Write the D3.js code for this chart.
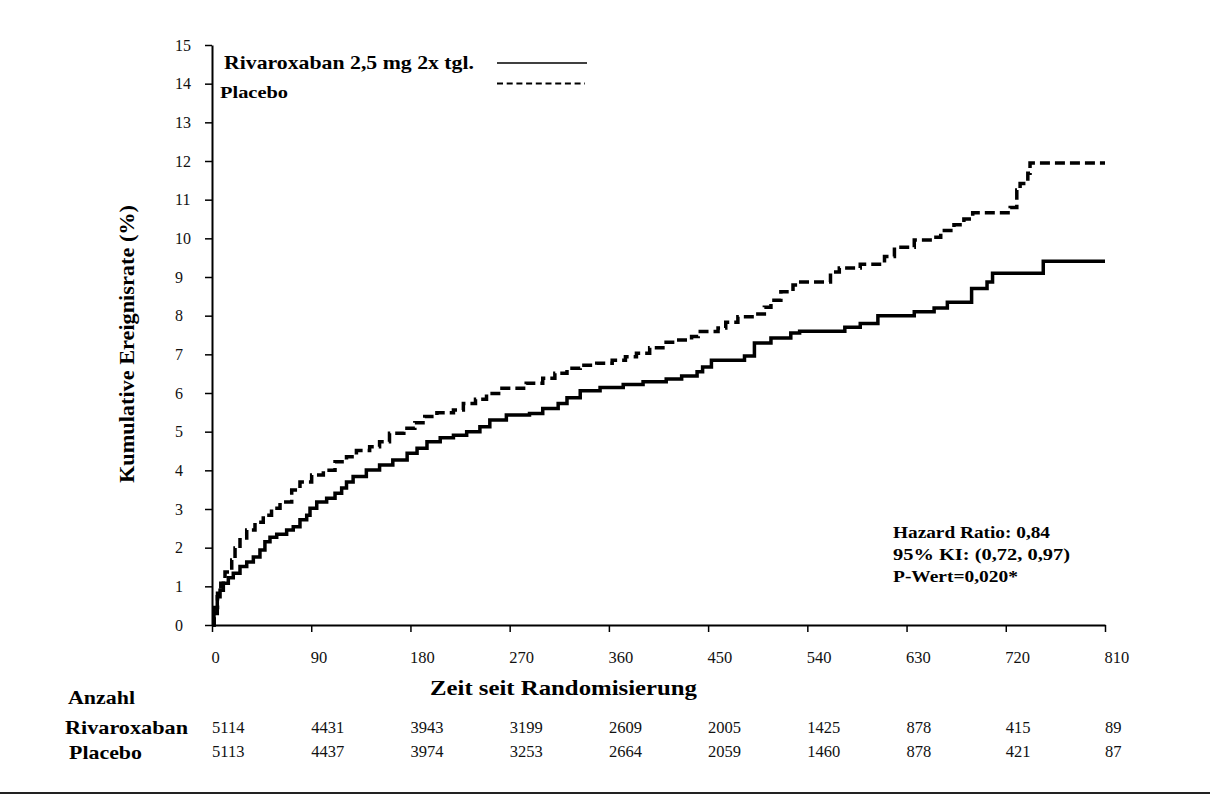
<!DOCTYPE html>
<html>
<head>
<meta charset="utf-8">
<script src="https://cdn.jsdelivr.net/npm/d3@7"></script>
<style>
  body { margin: 0; background: #fff; }
  svg { display: block; font-family: "Liberation Serif", "DejaVu Serif", serif; }
</style>
</head>
<body>
<svg width="1210" height="795"></svg>
<script>
const svg = d3.select('svg');

// Kaplan-Meier readings (days since randomisation, cumulative event rate in %)
const rivaDays = [0, 1.8, 4.8, 7.3, 10.3, 14.8, 19.3, 25.4, 31.5, 37.5, 43.5, 48, 52.6, 58.7, 67.7, 73.7, 79.8, 85.9, 88.9, 95, 104, 111.6, 117.6, 122, 128, 140, 152, 164, 177, 186, 195, 207, 219, 231, 243, 252, 267, 288, 300, 314, 322, 334, 352, 373, 391, 412, 426, 440, 445, 453, 483, 492, 507, 525, 533, 574, 588, 604, 637, 655, 667, 689, 703, 708, 754, 810];
const rivaRate = [0, 0.3, 0.73, 0.9, 1.08, 1.22, 1.34, 1.51, 1.63, 1.76, 1.94, 2.15, 2.27, 2.35, 2.46, 2.54, 2.72, 2.84, 3.02, 3.18, 3.28, 3.41, 3.54, 3.7, 3.84, 4.01, 4.14, 4.27, 4.44, 4.57, 4.74, 4.84, 4.91, 5.0, 5.13, 5.3, 5.43, 5.47, 5.6, 5.73, 5.88, 6.06, 6.14, 6.22, 6.29, 6.36, 6.44, 6.55, 6.67, 6.85, 6.96, 7.29, 7.42, 7.55, 7.6, 7.7, 7.8, 8.0, 8.1, 8.2, 8.35, 8.7, 8.87, 9.1, 9.41, 9.41];

const placDays = [0, 2, 5, 8, 11.8, 17.9, 20.9, 25.4, 31.5, 39, 46.5, 54, 61.7, 72.3, 79.8, 90.4, 101, 111.6, 122, 131, 143, 152, 161, 174, 184, 193, 204, 219, 228, 239, 249, 263, 285, 300, 311, 322, 334, 349, 363, 375, 385, 397, 409, 421, 435, 441, 459, 466, 477, 492, 501, 507, 516, 527, 534, 561, 569, 588, 610, 619, 637, 655, 661, 673, 682, 690, 724, 730, 733, 740, 742, 810];
const placRate = [0, 0.45, 0.82, 1.08, 1.37, 1.68, 1.99, 2.25, 2.46, 2.66, 2.84, 3.02, 3.18, 3.49, 3.7, 3.88, 4.0, 4.22, 4.35, 4.51, 4.61, 4.74, 4.96, 5.09, 5.23, 5.39, 5.49, 5.56, 5.73, 5.84, 5.99, 6.12, 6.25, 6.38, 6.51, 6.64, 6.72, 6.77, 6.85, 6.94, 7.03, 7.17, 7.31, 7.37, 7.46, 7.59, 7.68, 7.83, 7.97, 8.04, 8.22, 8.4, 8.62, 8.79, 8.87, 9.13, 9.23, 9.33, 9.53, 9.77, 9.96, 10.03, 10.2, 10.35, 10.5, 10.66, 10.8, 11.25, 11.42, 11.68, 11.95, 11.95];

const xTicks = [0, 90, 180, 270, 360, 450, 540, 630, 720, 810];
const yTicks = d3.range(0, 16);

const riskRows = ['Rivaroxaban', 'Placebo'];
const riskRiva = [5114, 4431, 3943, 3199, 2609, 2005, 1425, 878, 415, 89];
const riskPlac = [5113, 4437, 3974, 3253, 2664, 2059, 1460, 878, 421, 87];

const legendLabels = ['Rivaroxaban 2,5 mg 2x tgl.', 'Placebo'];
const statLines = ['Hazard Ratio: 0,84', '95% KI: (0,72, 0,97)', 'P-Wert=0,020*'];

const x = d3.scaleLinear().domain([0, 810]).range([212, 1105]);
const y = d3.scaleLinear().domain([0, 15]).range([625, 45]);

// axes
const yAxis = svg.append('g')
  .attr('transform', `translate(${x(0)},0)`)
  .call(d3.axisLeft(y).tickValues(yTicks).tickSizeInner(7).tickSizeOuter(0).tickFormat(d3.format('d')));
yAxis.select('.domain').attr('stroke', '#000').attr('stroke-width', 2);
yAxis.selectAll('.tick line').attr('stroke', '#000').attr('stroke-width', 1.5);
yAxis.selectAll('.tick text')
  .attr('text-anchor', 'start')
  .attr('x', -37)
  .attr('fill', '#111')
  .style('font-family', '"Liberation Serif", serif')
  .style('font-size', '16px');

const xAxis = svg.append('g')
  .attr('transform', `translate(0,${y(0)})`)
  .call(d3.axisBottom(x).tickValues(xTicks).tickSizeInner(7).tickSizeOuter(0).tickFormat(d3.format('d')));
xAxis.select('.domain').attr('stroke', '#000').attr('stroke-width', 2);
xAxis.selectAll('.tick line').attr('stroke', '#000').attr('stroke-width', 1.5);
xAxis.selectAll('.tick text')
  .attr('text-anchor', 'start')
  .attr('x', -1)
  .attr('y', 38)
  .attr('dy', 0)
  .attr('fill', '#111')
  .style('font-family', '"Liberation Serif", serif')
  .style('font-size', '16.5px');

// curves
const line = d3.line()
  .x(d => x(d[0]))
  .y(d => y(d[1]))
  .curve(d3.curveStepAfter);

svg.append('path')
  .datum(d3.zip(rivaDays, rivaRate))
  .attr('fill', 'none')
  .attr('stroke', '#000')
  .attr('stroke-width', 3.5)
  .attr('d', line);

svg.append('path')
  .datum(d3.zip(placDays, placRate))
  .attr('fill', 'none')
  .attr('stroke', '#000')
  .attr('stroke-width', 3.5)
  .attr('stroke-dasharray', '10,5')
  .attr('d', line);

// legend
svg.append('text')
  .attr('x', 224).attr('y', 69)
  .attr('font-weight', 'bold').attr('font-size', 19)
  .attr('textLength', 250).attr('lengthAdjust', 'spacingAndGlyphs')
  .text(legendLabels[0]);
svg.append('text')
  .attr('x', 220).attr('y', 98)
  .attr('font-weight', 'bold').attr('font-size', 17)
  .attr('textLength', 68).attr('lengthAdjust', 'spacingAndGlyphs')
  .text(legendLabels[1]);
svg.append('line')
  .attr('x1', 497).attr('x2', 587).attr('y1', 63).attr('y2', 63)
  .attr('stroke', '#000').attr('stroke-width', 1.5);
svg.append('line')
  .attr('x1', 497).attr('x2', 585).attr('y1', 83.5).attr('y2', 83.5)
  .attr('stroke', '#000').attr('stroke-width', 2)
  .attr('stroke-dasharray', '6,3.7');

// statistics
const statWidths = [157, 177, 125];
svg.selectAll('.stat')
  .data(statLines)
  .enter()
  .append('text')
  .attr('class', 'stat')
  .attr('x', 893)
  .attr('y', (d, i) => 538 + i * 22)
  .attr('font-weight', 'bold').attr('font-size', 17)
  .attr('textLength', (d, i) => statWidths[i]).attr('lengthAdjust', 'spacingAndGlyphs')
  .text(d => d);

// axis titles
svg.append('text')
  .attr('transform', `translate(134,${(205 + 483) / 2}) rotate(-90)`)
  .attr('text-anchor', 'middle')
  .attr('font-weight', 'bold').attr('font-size', 20)
  .attr('textLength', 278).attr('lengthAdjust', 'spacingAndGlyphs')
  .text('Kumulative Ereignisrate (%)');

svg.append('text')
  .attr('x', 430).attr('y', 695)
  .attr('font-weight', 'bold').attr('font-size', 22)
  .attr('textLength', 267).attr('lengthAdjust', 'spacingAndGlyphs')
  .text('Zeit seit Randomisierung');

// number at risk
svg.append('text')
  .attr('x', 68).attr('y', 704)
  .attr('font-weight', 'bold').attr('font-size', 18)
  .attr('textLength', 67).attr('lengthAdjust', 'spacingAndGlyphs')
  .text('Anzahl');
svg.append('text')
  .attr('x', 65).attr('y', 734)
  .attr('font-weight', 'bold').attr('font-size', 19)
  .attr('textLength', 123).attr('lengthAdjust', 'spacingAndGlyphs')
  .text(riskRows[0]);
svg.append('text')
  .attr('x', 69).attr('y', 759)
  .attr('font-weight', 'bold').attr('font-size', 19)
  .attr('textLength', 73).attr('lengthAdjust', 'spacingAndGlyphs')
  .text(riskRows[1]);

[riskRiva, riskPlac].forEach((row, r) => {
  svg.selectAll(`.risk${r}`)
    .data(row)
    .enter()
    .append('text')
    .attr('class', `risk${r}`)
    .attr('x', (d, i) => x(xTicks[i]))
    .attr('y', 733 + r * 24)
    .attr('font-size', 16.5)
    .attr('fill', '#111')
    .text(d => d);
});

// bottom rule
svg.append('line')
  .attr('x1', 0).attr('x2', 1210).attr('y1', 793).attr('y2', 793)
  .attr('stroke', '#222').attr('stroke-width', 2);
</script>
</body>
</html>
